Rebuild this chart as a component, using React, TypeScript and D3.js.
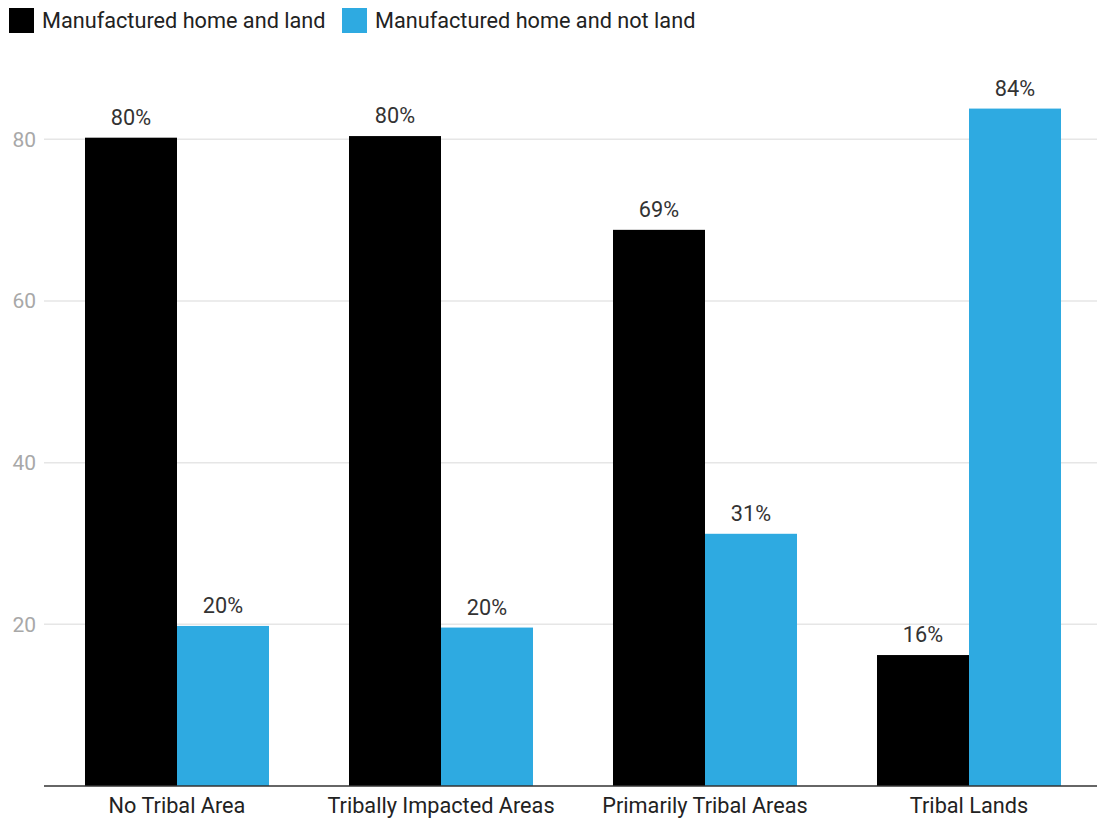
import React from "react";
import * as d3 from "d3";

const categories = ["No Tribal Area", "Tribally Impacted Areas", "Primarily Tribal Areas", "Tribal Lands"];
const seriesNames = ["Manufactured home and land", "Manufactured home and not land"];
const homeAndLand = [80.2, 80.4, 68.8, 16.2];
const homeNotLand = [19.8, 19.6, 31.2, 83.8];
const labelsLand = ["80%", "80%", "69%", "16%"];
const labelsNotLand = ["20%", "20%", "31%", "84%"];
const yTicks = [20, 40, 60, 80];
const colors = ["#000000", "#2eaae1"];

const W = 1097;
const H = 818;
const FONT = "Roboto, 'Noto Sans', sans-serif";
const FS = 21.7;

export default function App() {
  const x = d3.scaleBand<string>().domain(categories).range([45, 1101]).paddingInner(0.303).paddingOuter(0.1515);
  const xs = d3.scaleBand<number>().domain([0, 1]).range([0, x.bandwidth()]);
  const y = d3.scaleLinear().domain([0, 80]).range([786, 139.3]);
  const series = [homeAndLand, homeNotLand];
  const labels = [labelsLand, labelsNotLand];

  return (
    <svg width={W} height={H} style={{ position: "absolute", left: 0, top: 0, background: "#fff" }} fontFamily={FONT}>
      {/* legend */}
      <rect x={9} y={8} width={25} height={25} fill={colors[0]} />
      <text x={42} y={28} fontSize={FS} fill="#222">{seriesNames[0]}</text>
      <rect x={342} y={8} width={25} height={25} fill={colors[1]} />
      <text x={375} y={28} fontSize={FS} fill="#222">{seriesNames[1]}</text>

      {/* gridlines */}
      {yTicks.map((t) => (
        <g key={t}>
          <line x1={44} x2={W} y1={y(t)} y2={y(t)} stroke="#e6e6e6" strokeWidth={1.5} />
          <text x={36} y={y(t)} dy="0.35em" textAnchor="end" fontSize={21} fill="#a8a8a8">{t}</text>
        </g>
      ))}

      {/* bars */}
      {categories.map((c, i) => (
        <g key={c} transform={`translate(${x(c)},0)`}>
          {series.map((s, j) => (
            <g key={j}>
              <rect x={xs(j)} y={y(s[i])} width={xs.bandwidth()} height={y(0) - y(s[i])} fill={colors[j]} />
              <text x={(xs(j) as number) + xs.bandwidth() / 2} y={y(s[i]) - 13} textAnchor="middle" fontSize={FS} fill="#333">{labels[j][i]}</text>
            </g>
          ))}
        </g>
      ))}

      {/* axis */}
      <line x1={44} x2={W} y1={y(0)} y2={y(0)} stroke="#333" strokeWidth={1.5} />
      {categories.map((c) => (
        <text key={c} x={(x(c) as number) + x.bandwidth() / 2} y={813} textAnchor="middle" fontSize={FS} fill="#222">{c}</text>
      ))}
    </svg>
  );
}
